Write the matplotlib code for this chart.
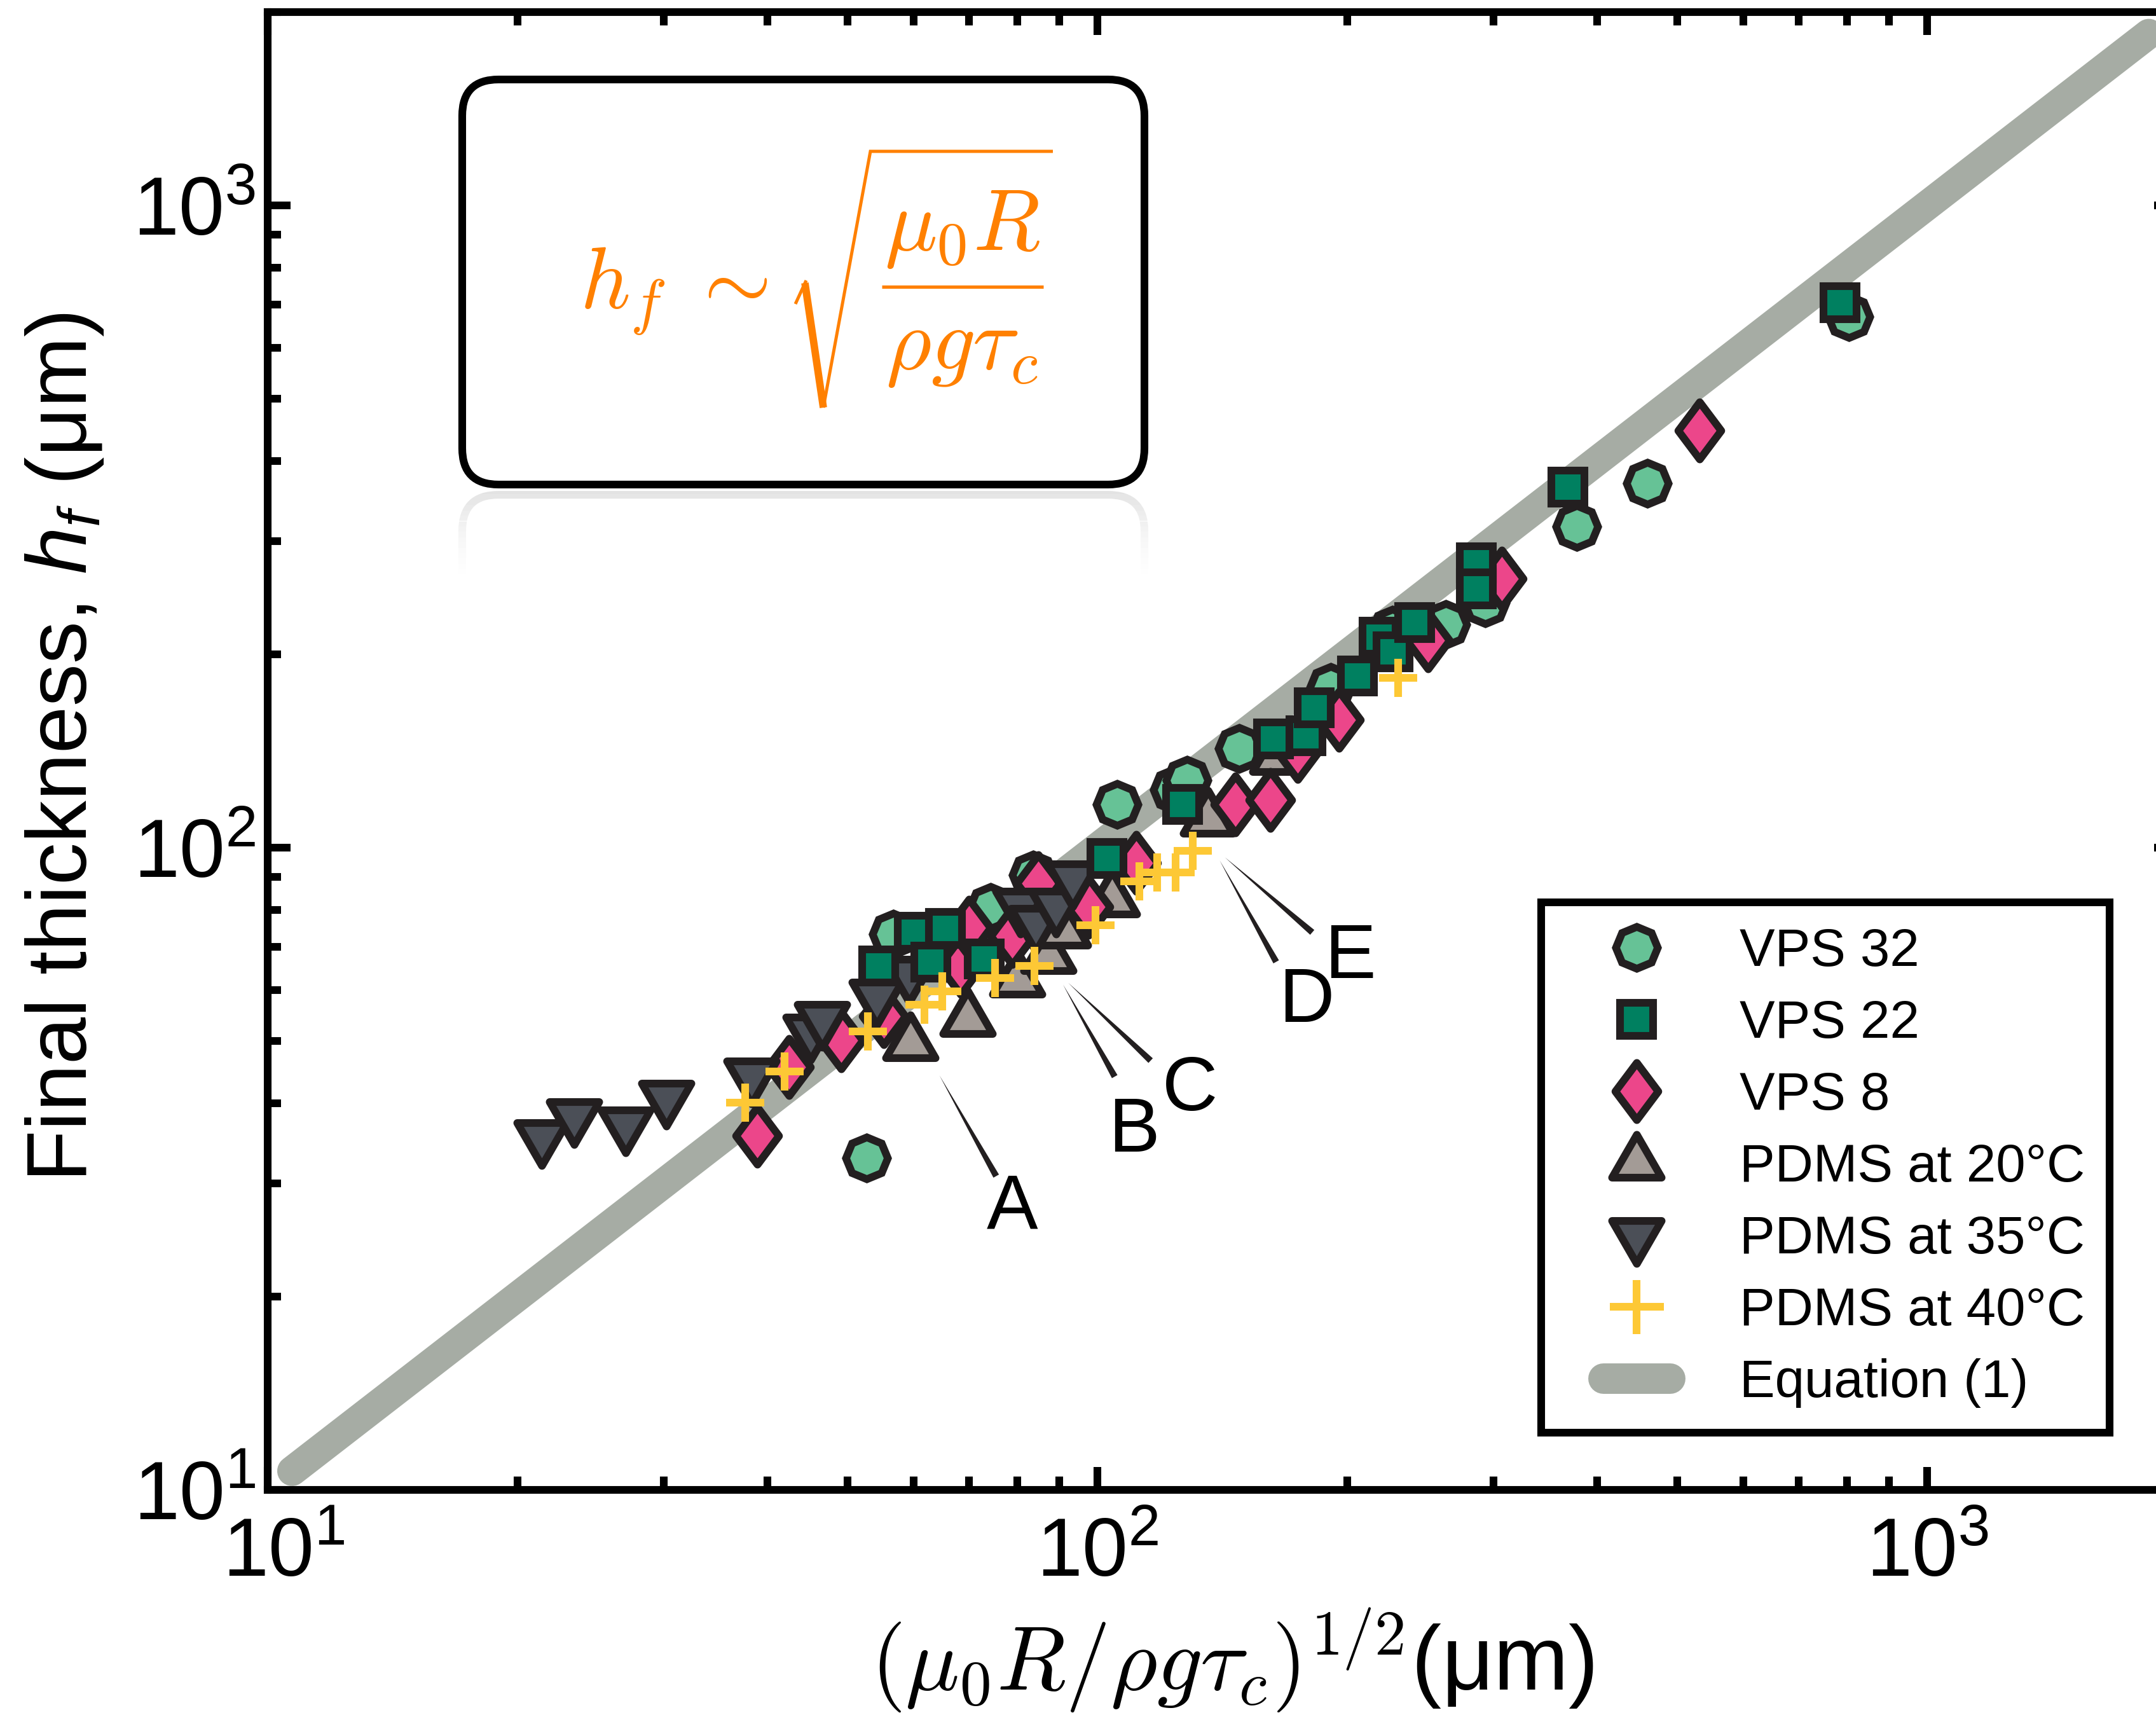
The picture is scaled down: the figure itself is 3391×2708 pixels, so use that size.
import numpy as np
import matplotlib
matplotlib.use("Agg")
import matplotlib.pyplot as plt
from matplotlib.lines import Line2D
from matplotlib.markers import MarkerStyle
from matplotlib.patches import FancyBboxPatch, Rectangle
from matplotlib.legend_handler import HandlerLine2D
from matplotlib.path import Path
from matplotlib.transforms import ScaledTranslation

plt.rcParams['font.family'] = ['Liberation Sans', 'DejaVu Sans']
plt.rcParams['mathtext.fontset'] = 'custom'
plt.rcParams['mathtext.rm'] = 'Liberation Sans'
plt.rcParams['mathtext.it'] = 'Liberation Sans:italic'
plt.rcParams['mathtext.bf'] = 'Liberation Sans:bold'

# ---- data ----
vps32_x = [52.7, 56.7, 74.3, 83.6, 105.6, 123.7, 128.2, 148.3, 191.2, 226.9, 262.9, 293.2, 378.4, 459.8, 804.3]
vps32_y = [32.9, 73.3, 80.7, 90.6, 116.8, 123.1, 127.4, 142.8, 177.8, 217.9, 222.4, 240.4, 316.2, 369.4, 670.7]

vps22_x = [54.5, 60.2, 65.6, 63.0, 73.0, 102.7, 126.6, 163.1, 178.3, 182.4, 205.6, 218.6, 227.3, 241.2, 286.1, 286.1, 369.1, 785.0]
vps22_y = [65.5, 73.8, 74.8, 66.3, 67.1, 96.2, 116.8, 147.5, 149.5, 165.3, 184.9, 212.6, 201.7, 224.0, 277.6, 252.8, 364.3, 705.1]

vps8_x = [38.9, 42.5, 49.1, 55.3, 68.4, 70.0, 78.9, 84.8, 97.6, 111.3, 146.7, 161.6, 174.2, 195.6, 250.3, 306.9, 532.1]
vps8_y = [35.6, 45.5, 50.1, 54.7, 65.4, 75.0, 72.8, 88.0, 80.9, 94.7, 116.8, 118.7, 141.5, 158.2, 210.1, 262.2, 446.5]

pdms20_x = [59.5, 69.8, 80.0, 87.3, 90.9, 104.1, 136.0, 164.8]
pdms20_y = [49.6, 54.0, 62.2, 67.7, 74.1, 82.9, 110.8, 138.3]

pdms35_x = [21.4, 23.4, 27.0, 30.2, 38.3, 45.1, 46.6, 54.2, 59.3, 80.7, 84.3, 89.2, 93.4]
pdms35_y = [35.4, 38.2, 37.1, 40.8, 44.2, 51.7, 54.2, 58.7, 63.6, 81.2, 76.4, 81.2, 89.6]

pdms40_x = [37.6, 42.0, 52.9, 61.9, 65.0, 75.2, 84.0, 99.5, 112.3, 118.0, 124.3, 130.2, 230.4]
pdms40_y = [40.1, 44.8, 51.7, 57.0, 59.7, 62.6, 65.5, 75.7, 88.6, 91.5, 91.5, 98.9, 183.6]

# Equation (1): h_f = (mu0 R / rho g tau_c)^(1/2)
eq_x = [10.7, 1850]
eq_y = [10.7, 1850]

# labelled experiments: wedge start (near data), wedge end, label position
ann_labels = ['A', 'B', 'C', 'D', 'E']
ann_start = [(64.5, 44.2), (90.9, 61.2), (92.2, 61.6), (140.4, 95.5), (142.4, 96.6)]
ann_end = [(75.5, 30.8), (104.9, 44.0), (115.9, 46.6), (164.2, 66.4), (181.5, 73.8)]
ann_text = [(78.9, 27.4), (110.7, 36.1), (129.3, 41.9), (178.6, 57.5), (201.7, 67.3)]

legend_labels = ['VPS 32', 'VPS 22', 'VPS 8', 'PDMS at 20°C', 'PDMS at 35°C',
                 'PDMS at 40°C', 'Equation (1)']

major_ticks = [10, 100, 1000]
tick_labels = [r'$\mathregular{10^{1}}$', r'$\mathregular{10^{2}}$', r'$\mathregular{10^{3}}$']

# ---- styles ----
edge = '#231f20'
c_vps32 = '#66c296'
c_vps22 = '#008060'
c_vps8 = '#ec468a'
c_p20 = '#a39b96'
c_p35 = '#4b4f57'
c_p40 = '#fdc835'
c_eq = '#a6aca4'
c_formula = '#ff8000'
mew = 2.9

M, L, C = Path.MOVETO, Path.LINETO, Path.CLOSEPOLY
tri_up = MarkerStyle(Path([(-1, -0.577), (1, -0.577), (0, 1.155), (0, 0)], [M, L, L, C]), joinstyle='miter')
tri_dn = MarkerStyle(Path([(-1, 0.577), (1, 0.577), (0, -1.155), (0, 0)], [M, L, L, C]), joinstyle='miter')
diam = MarkerStyle(Path([(0, 1), (0.75, 0), (0, -1), (-0.75, 0), (0, 0)], [M, L, L, L, C]), joinstyle='miter')
octo = MarkerStyle((8, 0, 0), joinstyle='miter')
sq = MarkerStyle('s', joinstyle='miter')

styles = {
    'vps32': dict(marker=octo, ms=15.8, mfc=c_vps32, mec=edge, mew=mew),
    'vps22': dict(marker=sq, ms=12.7, mfc=c_vps22, mec=edge, mew=mew),
    'vps8': dict(marker=diam, ms=21.6, mfc=c_vps8, mec=edge, mew=mew),
    'p20': dict(marker=tri_up, ms=21.6, mfc=c_p20, mec=edge, mew=mew),
    'p35': dict(marker=tri_dn, ms=21.6, mfc=c_p35, mec=edge, mew=mew),
    'p40': dict(marker='+', ms=14.6, mec=c_p40, mew=mew),
}

W, H, DPI = 3391, 2708, 300
fig = plt.figure(figsize=(W / DPI, H / DPI), dpi=DPI)
ax = fig.add_axes([0.1242, 0.1348, 0.8855, 0.8582])


def inch(x, y):
    # reference pixel position -> inches from lower-left of the figure
    return x / DPI, (H - y) / DPI


ax.plot(eq_x, eq_y, color=c_eq, lw=11.3, solid_capstyle='round', zorder=2)
ax.plot(vps32_x, vps32_y, ls='none', zorder=3, **styles['vps32'])
ax.plot(pdms20_x, pdms20_y, ls='none', zorder=4, **styles['p20'])
ax.plot(vps8_x, vps8_y, ls='none', zorder=5, **styles['vps8'])
ax.plot(pdms35_x, pdms35_y, ls='none', zorder=6, **styles['p35'])
ax.plot(vps22_x, vps22_y, ls='none', zorder=7, **styles['vps22'])
ax.plot(pdms40_x, pdms40_y, ls='none', zorder=8, **styles['p40'])

ax.set_xscale('log')
ax.set_yscale('log')
ax.set_xlim(10, 2000)
ax.set_ylim(10, 2000)

ax.tick_params(which='both', direction='in', top=True, right=True, width=2.9, color='black')
ax.tick_params(which='major', length=8.6, labelsize=31)
ax.tick_params(which='minor', length=5)
ax.tick_params(axis='x', pad=10)
ax.tick_params(axis='y', pad=4.5)
for s in ax.spines.values():
    s.set_linewidth(2.9)

ax.set_xticks(major_ticks)
ax.set_yticks(major_ticks)
xt = ax.set_xticklabels(tick_labels)
ax.set_yticklabels(tick_labels)
# first x label sits a little right of its tick, clear of the y label
xt[0].set_transform(xt[0].get_transform() + ScaledTranslation(25 / DPI, 0, fig.dpi_scale_trans))

ax.set_ylabel('Final thickness, $h_f$ (μm)', fontsize=32)
ax.yaxis.set_label_coords(-0.085, 0.5026)
xl = ax.set_xlabel(r'$(\mu_0 R/\rho g\tau_c)^{1/2}$(μm)', fontsize=34)
xl.set_math_fontfamily('cm')
ax.xaxis.set_label_coords(0.505, -0.079)

# wedge pointers and letters
for lab, st, en, tp in zip(ann_labels, ann_start, ann_end, ann_text):
    ax.annotate('', xy=st, xytext=en,
                arrowprops=dict(arrowstyle='wedge,tail_width=0.24,shrink_factor=0.5',
                                mutation_scale=10, fc=edge, ec='none', lw=0,
                                shrinkA=0, shrinkB=0), zorder=9)
    ax.text(tp[0], tp[1], lab, fontsize=29, ha='center', va='center', zorder=9)

# legend
handles = [
    Line2D([], [], ls='none', **styles['vps32']),
    Line2D([], [], ls='none', **styles['vps22']),
    Line2D([], [], ls='none', **styles['vps8']),
    Line2D([], [], ls='none', **styles['p20']),
    Line2D([], [], ls='none', **styles['p35']),
    Line2D([], [], ls='none', marker='+', ms=20.4, mec=c_p40, mew=mew),
]
eq_handle = Line2D([], [], color=c_eq, lw=11.5, solid_capstyle='round')
handles.append(eq_handle)
leg = ax.legend(handles, legend_labels, loc='upper left',
                bbox_to_anchor=(2424 / W, 1 - 1419 / H), bbox_transform=fig.transFigure,
                borderaxespad=0, fontsize=20, numpoints=1, frameon=True, fancybox=False,
                edgecolor='black', framealpha=1, borderpad=0.47, labelspacing=0.42,
                handlelength=2.67, handletextpad=0.6,
                handler_map={eq_handle: HandlerLine2D(numpoints=2, marker_pad=0.7)})
leg.get_frame().set_linewidth(2.9)
leg.set_zorder(20)

# formula box (inches, figure space) and its faint reflection
bx, by, bw, bh, rr = 2.4233, 6.4867, 3.5767, 2.1233, 0.19
box = FancyBboxPatch((bx, by), bw, bh, boxstyle=f'round,pad=0,rounding_size={rr}',
                     transform=fig.dpi_scale_trans, fc='white', ec='black', lw=2.9, zorder=30)
fig.add_artist(box)
refl_top = 6.433
n_sl, step = 16, 0.028
for i in range(n_sl):
    ytop = refl_top + 0.03 - i * step
    clip = Rectangle((bx - 0.2, ytop - step), bw + 0.4, step, transform=fig.dpi_scale_trans)
    p = FancyBboxPatch((bx, refl_top - bh), bw, bh, boxstyle=f'round,pad=0,rounding_size={rr}',
                       transform=fig.dpi_scale_trans, fc='none', ec='#c8c8c8', lw=2.9,
                       alpha=0.5 * (1 - i / n_sl) ** 1.5, zorder=29)
    fig.add_artist(p)
    p.set_clip_path(clip)

# formula h_f ~ sqrt(mu0 R / rho g tau_c), laid out piece by piece
fkw = dict(fontsize=33, color=c_formula, transform=fig.dpi_scale_trans, zorder=31,
           va='baseline', math_fontfamily='cm')
fig.text(*inch(912, 485), r'$h_f$', ha='left', **fkw)
fig.text(*inch(1145, 485), r'$\sim$', ha='center', **fkw)
fig.text(*inch(1514, 393), r'$\mu_0R$', ha='center', **fkw)
fig.text(*inch(1513, 580), r'$\rho g\tau_c$', ha='center', **fkw)
lkw = dict(color=c_formula, transform=fig.dpi_scale_trans, zorder=31, solid_capstyle='butt',
           solid_joinstyle='miter')
for pts, lw in [([(1251, 478), (1268, 441)], 1.2),
                ([(1266, 445), (1295, 641)], 2.8),
                ([(1295, 641), (1369, 238), (1656, 238)], 1.2),
                ([(1387, 451), (1641, 451)], 1.25)]:
    xs, ys = zip(*[inch(px, py) for px, py in pts])
    fig.add_artist(Line2D(xs, ys, lw=lw, **lkw))

fig.savefig('out.png', dpi=DPI)
